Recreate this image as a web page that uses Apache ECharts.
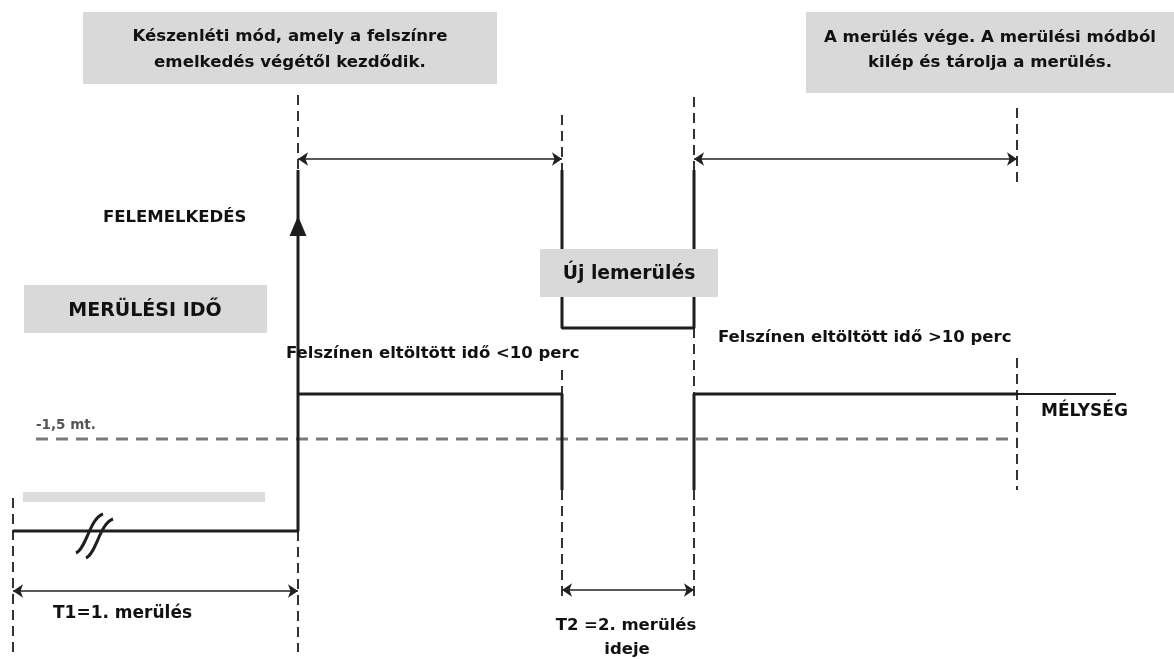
<!DOCTYPE html>
<html>
<head>
<meta charset="utf-8">
<script src="https://cdn.jsdelivr.net/npm/echarts@6/dist/echarts.min.js"></script>
<style>
html,body{margin:0;padding:0;background:#fff;}
#c{width:1174px;height:659px;}
</style>
</head>
<body>
<div id="c"></div>
<script>
// Diagram units: x = time position, y = vertical level (0 top .. 659 bottom)
const profileFirst = [[13,531],[298,531],[298,394],[562,394],[562,490]];
const ascentLine = [[298,394],[298,170]];
const profileSecond = [[694,490],[694,394],[1017,394]];
const profileTail = [[1017,394],[1116,394]];
const newDive = [[562,170],[562,328],[694,328],[694,170]];
const depthLimit = [[36,439],[1017,439]];
const dashedGuides = [
  [[13,498],[13,652]],
  [[298,95],[298,170]],
  [[298,531],[298,652]],
  [[562,115],[562,170]],
  [[562,370],[562,394]],
  [[562,490],[562,598]],
  [[694,97],[694,170]],
  [[694,328],[694,394]],
  [[694,490],[694,598]],
  [[1017,108],[1017,182]],
  [[1017,358],[1017,490]]
];
const spanArrows = [
  [[298,159],[562,159]],
  [[694,159],[1017,159]],
  [[13,591],[298,591]],
  [[562,590],[694,590]]
];
const ascentHead = [[298,226]];
const boxes = [
  [83,12,497,84],
  [806,12,1174,93],
  [24,285,267,333],
  [540,249,718,297],
  [23,492,265,502]
];
const labelTexts = [
  'Készenléti mód, amely a felszínre', 'emelkedés végétől kezdődik.',
  'A merülés vége. A merülési módból', 'kilép és tárolja a merülés.',
  'MERÜLÉSI IDŐ', 'Új lemerülés', 'FELEMELKEDÉS',
  'Felszínen eltöltött idő <10 perc', 'Felszínen eltöltött idő >10 perc',
  '-1,5 mt.', 'MÉLYSÉG', 'T1=1. merülés', 'T2 =2. merülés', 'ideje'
];
const labelAnchors = [
  [290,37],[290,63],
  [990,38],[990,63],
  [145,311],[629,274],[103,218],
  [286,354],[718,338],
  [36,425],[1041,412],[53,614],[626,626],[627,650]
];
const labelAligns = ['center','center','center','center','center','center','left','left','left','left','left','left','center','center'];
const labelSizes = [16.6,16.6,16.6,16.6,19,18.8,16.5,16.5,16.5,13.5,17,17,16.5,16.5];
const breakMark = [[76,553,86,549,90,518,103,514],[86,558,96,554,100,523,113,519]];

const FONT = '"DejaVu Sans", sans-serif';
const chart = echarts.init(document.getElementById('c'));
const xy = 'cartesian2d';
chart.setOption({
  animation: false,
  backgroundColor: '#fff',
  grid: {left: 0, right: 0, top: 0, bottom: 0},
  xAxis: {type: 'value', min: 0, max: 1174, show: false},
  yAxis: {type: 'value', min: 0, max: 659, inverse: true, show: false},
  series: [
    {
      type: 'custom', coordinateSystem: xy, z: 8,
      data: boxes.map((b, i) => i),
      renderItem: function (params, api) {
        const b = boxes[params.dataIndex];
        const p0 = api.coord([b[0], b[1]]);
        const p1 = api.coord([b[2], b[3]]);
        return {type: 'rect', shape: {x: p0[0], y: p0[1], width: p1[0]-p0[0], height: p1[1]-p0[1]},
          style: {fill: params.dataIndex === 4 ? '#dcdcdc' : '#d9d9d9'}};
      }
    },
    {type: 'line', data: depthLimit, symbol: 'none', z: 2,
      lineStyle: {color: '#7a7a7a', width: 3, type: [12, 8]}},
    {type: 'lines', coordinateSystem: xy, z: 3,
      data: dashedGuides.map(c => ({coords: c})),
      lineStyle: {color: '#333', width: 2, type: [10, 6], opacity: 1}},
    {type: 'line', data: profileFirst, symbol: 'none', z: 4, lineStyle: {color: '#1e1e1e', width: 3}},
    {type: 'line', data: ascentLine, symbol: 'none', z: 4, lineStyle: {color: '#1e1e1e', width: 3}},
    {type: 'line', data: profileSecond, symbol: 'none', z: 4, lineStyle: {color: '#1e1e1e', width: 3}},
    {type: 'line', data: profileTail, symbol: 'none', z: 4, lineStyle: {color: '#1e1e1e', width: 2}},
    {type: 'line', data: newDive, symbol: 'none', z: 4, lineStyle: {color: '#1e1e1e', width: 3}},
    {type: 'lines', coordinateSystem: xy, z: 5,
      data: spanArrows.map(c => ({coords: c})),
      symbol: ['arrow', 'arrow'], symbolSize: 10,
      lineStyle: {color: '#222', width: 1.5, opacity: 1}},
    {type: 'scatter', data: ascentHead, symbol: 'triangle', symbolSize: [17, 20], z: 6,
      itemStyle: {color: '#1e1e1e', opacity: 1}},
    {
      type: 'custom', coordinateSystem: xy, z: 6,
      data: breakMark.map((b, i) => i),
      renderItem: function (params, api) {
        const b = breakMark[params.dataIndex];
        const s = api.coord([b[0], b[1]]), c1 = api.coord([b[2], b[3]]),
              c2 = api.coord([b[4], b[5]]), e = api.coord([b[6], b[7]]);
        return {type: 'bezierCurve',
          shape: {x1: s[0], y1: s[1], cpx1: c1[0], cpy1: c1[1], cpx2: c2[0], cpy2: c2[1], x2: e[0], y2: e[1]},
          style: {stroke: '#1e1e1e', lineWidth: 3, fill: null}};
      }
    },
    {
      type: 'custom', coordinateSystem: xy, z: 10,
      data: labelTexts.map((t, i) => i),
      renderItem: function (params, api) {
        const i = params.dataIndex;
        const p = api.coord(labelAnchors[i]);
        return {type: 'text', x: p[0], y: p[1],
          style: {text: labelTexts[i], textAlign: labelAligns[i], textVerticalAlign: 'middle',
            font: 'bold ' + labelSizes[i] + 'px ' + FONT,
            fill: i === 9 ? '#555' : '#111'}};
      }
    }
  ]
});
</script>
</body>
</html>
